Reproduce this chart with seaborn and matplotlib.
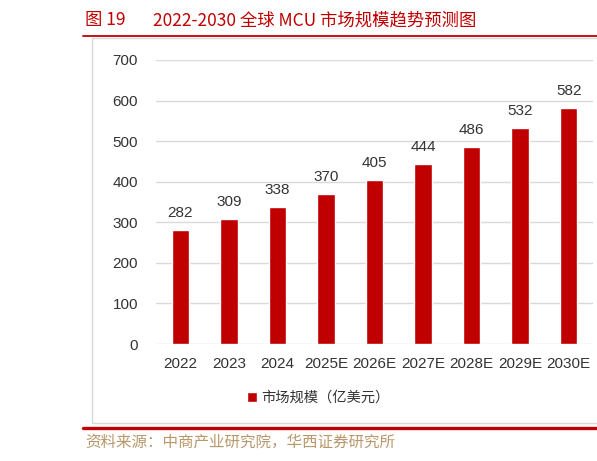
import matplotlib
matplotlib.use("Agg")
import matplotlib.pyplot as plt
from matplotlib.lines import Line2D
from matplotlib.patches import Rectangle
import seaborn as sns
import pandas as pd

years = ["2022", "2023", "2024", "2025E", "2026E", "2027E", "2028E", "2029E", "2030E"]
market = [282, 309, 338, 370, 405, 444, 486, 532, 582]
yticks = [0, 100, 200, 300, 400, 500, 600, 700]
series_name = "市场规模（亿美元）"

red = "#C00000"
text_gray = "#333333"

sns.set_theme(style="white")
plt.rcParams["font.family"] = ["Liberation Sans", "Noto Sans CJK SC", "DejaVu Sans"]

W, H = 597, 461
fig = plt.figure(figsize=(W / 100, H / 100), dpi=100)
ax = fig.add_axes([156 / W, 1 - 344 / H, (593 - 156) / W, (344 - 60) / H])

df = pd.DataFrame({"year": years, "value": market})
sns.barplot(data=df, x="year", y="value", color=red, width=0.36, ax=ax,
            label=series_name, saturation=1)
if ax.get_legend() is not None:
    ax.get_legend().remove()

ax.set_ylim(0, 700)
ax.set_yticks(yticks)
ax.set_xlabel("")
ax.set_ylabel("")
ax.grid(axis="y", color="#D9D9D9", linewidth=1)
ax.set_axisbelow(True)
for s in ax.spines.values():
    s.set_visible(False)
ax.tick_params(axis="both", length=0, labelsize=11, colors=text_gray)
ax.tick_params(axis="y", pad=13)
ax.tick_params(axis="x", pad=9)

ax.bar_label(ax.containers[0], padding=7, fontsize=11, color=text_gray)

handles, labels = ax.get_legend_handles_labels()
fig.legend(handles, labels, loc="center", bbox_to_anchor=(318 / W, 1 - 398 / H),
           frameon=False, handlelength=0.7, handleheight=0.7, handletextpad=0.3,
           prop={"family": ["Noto Sans CJK SC"], "size": 10.3}, labelcolor=text_gray)

# chart frame
fig.add_artist(Rectangle((92 / W, 1 - 423 / H), 1.0, (423 - 38) / H,
                         transform=fig.transFigure, fill=False,
                         edgecolor="#D9D9D9", linewidth=1))

# title and rules
cjk = ["Noto Sans CJK SC", "DejaVu Sans"]
fig.text(85 / W, 1 - 20 / H, "图 19", color=red, fontsize=12.5, family=cjk, va="center")
fig.text(153 / W, 1 - 20 / H, "2022-2030 全球 MCU 市场规模趋势预测图", color=red,
         fontsize=12.5, family=cjk, va="center")
fig.add_artist(Line2D([83 / W, 1], [1 - 36 / H] * 2, color=red, linewidth=1.3))
fig.add_artist(Line2D([83 / W, 1], [1 - 428 / H] * 2, color=red, linewidth=2.4))
fig.text(85 / W, 1 - 442 / H, "资料来源：中商产业研究院，华西证券研究所", color="#B8976A",
         fontsize=11.2, family=cjk, va="center")

fig.savefig("out.png", dpi=100)
